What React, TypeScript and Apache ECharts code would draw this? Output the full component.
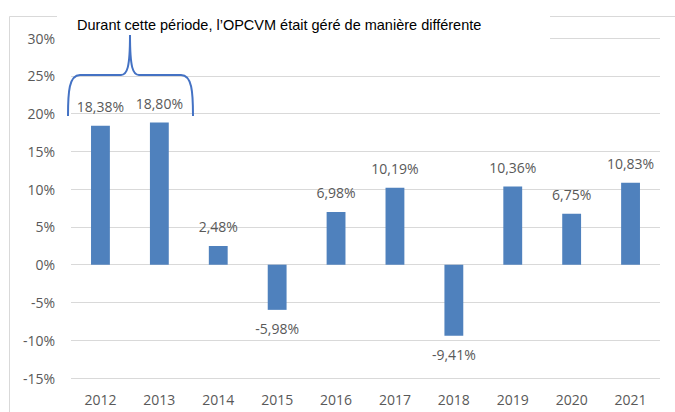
import React, { useEffect, useRef } from "react";
import * as echarts from "echarts";

const categories = ["2012", "2013", "2014", "2015", "2016", "2017", "2018", "2019", "2020", "2021"];
const performance = [18.38, 18.8, 2.48, -5.98, 6.98, 10.19, -9.41, 10.36, 6.75, 10.83];
const yTicks = { min: -15, max: 30, interval: 5 };
const annotation = "Durant cette période, l\u2019OPCVM était géré de manière différente";

const bracketPath =
  "M68,116 C68,92 69,75 80,75 L121,75 C127,75 130,68 130,35 C130,68 133,75 139,75 L181,75 C192,75 193,92 193,116";

let registered = false;

export default function App() {
  const ref = useRef<HTMLDivElement>(null);
  useEffect(() => {
    if (!ref.current) return;
    if (!registered) {
      echarts.graphic.registerShape("bracket", echarts.graphic.extendPath(bracketPath, {}));
      registered = true;
    }
    const chart = echarts.init(ref.current, null, { renderer: "svg" });
    const fmt = (v: number) => v.toFixed(2).replace(".", ",") + "%";
    chart.setOption({
      animation: false,
      grid: { left: 71, right: 15, top: 38, bottom: 34, containLabel: false },
      xAxis: {
        type: "category",
        data: categories,
        axisLine: { show: false },
        axisTick: { show: false },
        axisLabel: { color: "#595959", fontSize: 14, fontFamily: "Open Sans", margin: 14 },
      },
      yAxis: {
        type: "value",
        min: yTicks.min,
        max: yTicks.max,
        interval: yTicks.interval,
        axisLabel: {
          color: "#595959",
          fontSize: 14,
          fontFamily: "Open Sans",
          margin: 16,
          formatter: (v: number) => `${v}%`,
        },
        splitLine: { lineStyle: { color: "#D9D9D9", width: 1 } },
        axisLine: { show: false },
        axisTick: { show: false },
      },
      series: [
        {
          type: "bar",
          barWidth: "32%",
          itemStyle: { color: "#4F81BD" },
          data: performance.map((v) => ({
            value: v,
            label: { position: v < 0 ? "bottom" : "top" },
          })),
          label: {
            show: true,
            distance: 12,
            color: "#595959",
            fontSize: 14,
            fontFamily: "Open Sans",
            formatter: (p: any) => fmt(p.value),
          },
        },
      ],
      graphic: [
        {
          type: "rect",
          z: 0,
          shape: { x: 9.5, y: 16.5, width: 700, height: 500 },
          style: { fill: "none", stroke: "#D9D9D9", lineWidth: 1 },
        },
        {
          type: "rect",
          z: 50,
          shape: { x: 57, y: 4, width: 493, height: 38 },
          style: { fill: "#FFFFFF" },
        },
        {
          type: "text",
          z: 51,
          x: 77,
          y: 25,
          style: {
            text: annotation,
            fill: "#000000",
            fontSize: 14.5,
            fontFamily: "Liberation Sans",
            verticalAlign: "middle",
          },
        },
        {
          type: "bracket",
          z: 52,
          x: 0,
          y: 0,
          style: { fill: "none", stroke: "#4472C4", lineWidth: 2 },
        },
      ],
    });
    return () => chart.dispose();
  }, []);
  return (
    <div
      ref={ref}
      style={{ position: "fixed", left: 0, top: 0, width: 675, height: 412, background: "#fff" }}
    />
  );
}
